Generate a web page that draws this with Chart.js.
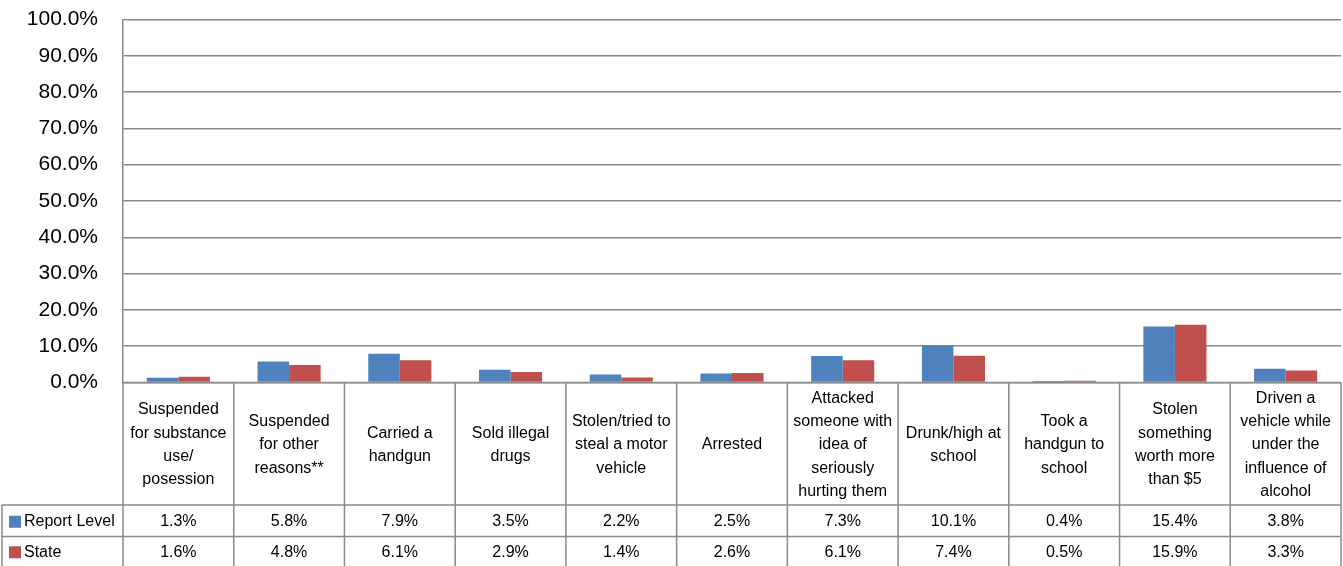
<!DOCTYPE html>
<html><head><meta charset="utf-8">
<script src="https://cdn.jsdelivr.net/npm/chart.js@4"></script>
<style>html,body{margin:0;padding:0;background:#fff;overflow:hidden}#wrap{width:1343px;height:566px;position:relative}</style>
</head><body><div id="wrap"><canvas id="c" width="1343" height="566"></canvas></div>
<script>
const categories = [
  ["Suspended","for substance","use/","posession"],
  ["Suspended","for other","reasons**"],
  ["Carried a","handgun"],
  ["Sold illegal","drugs"],
  ["Stolen/tried to","steal a motor","vehicle"],
  ["Arrested"],
  ["Attacked","someone with","idea of","seriously","hurting them"],
  ["Drunk/high at","school"],
  ["Took a","handgun to","school"],
  ["Stolen","something","worth more","than $5"],
  ["Driven a","vehicle while","under the","influence of","alcohol"]
];
const seriesNames = ["Report Level","State"];
const reportLevel = [1.3,5.8,7.9,3.5,2.2,2.5,7.3,10.1,0.4,15.4,3.8];
const stateValues = [1.6,4.8,6.1,2.9,1.4,2.6,6.1,7.4,0.5,15.9,3.3];
const yTickValues = [0,10,20,30,40,50,60,70,80,90,100];
const seriesColors = ["#4F81BD","#C0504D"];

const FONT = '"Liberation Sans", Arial, sans-serif';
const LINE = '#8a8a8a';

const tablePlugin = {
  id: 'dataTable',
  afterDraw(chart) {
    const ctx = chart.ctx;
    const xs = chart.scales.x;
    const area = chart.chartArea;
    const n = categories.length;
    const left = area.left, right = area.right;
    const colW = (right - left) / n;
    const top = area.bottom;
    const headBottom = 505;
    const row2 = 536.5;
    const bottom = 568;
    const tableLeft = 2;
    ctx.save();
    ctx.strokeStyle = LINE;
    ctx.lineWidth = 1.5;
    ctx.beginPath();
    for (let i = 0; i <= n; i++) {
      const x = left + i * colW;
      ctx.moveTo(x, top); ctx.lineTo(x, bottom);
    }
    ctx.moveTo(tableLeft, headBottom); ctx.lineTo(tableLeft, bottom);
    ctx.moveTo(left, top); ctx.lineTo(right, top);
    ctx.moveTo(tableLeft, headBottom); ctx.lineTo(right, headBottom);
    ctx.moveTo(tableLeft, row2); ctx.lineTo(right, row2);
    ctx.stroke();

    ctx.fillStyle = '#000';
    ctx.font = '16px ' + FONT;
    ctx.textAlign = 'center';
    ctx.textBaseline = 'middle';
    const lh = 23.3;
    const hc = 445;
    categories.forEach((lines, i) => {
      const cx = xs.getPixelForValue(i);
      const start = hc - (lines.length - 1) * lh / 2;
      lines.forEach((t, k) => ctx.fillText(t, cx, start + k * lh));
    });
    const rows = [reportLevel, stateValues];
    const rowCenters = [(headBottom + row2) / 2 + 1, (row2 + 566) / 2 + 1];
    rows.forEach((vals, r) => {
      vals.forEach((v, i) => {
        ctx.fillText(v.toFixed(1) + '%', xs.getPixelForValue(i), rowCenters[r]);
      });
      ctx.fillStyle = seriesColors[r];
      ctx.fillRect(9, rowCenters[r] - 6, 12, 12);
      ctx.fillStyle = '#000';
      ctx.textAlign = 'left';
      ctx.fillText(seriesNames[r], 24, rowCenters[r]);
      ctx.textAlign = 'center';
    });
    ctx.restore();
  }
};

new Chart(document.getElementById('c'), {
  type: 'bar',
  data: {
    labels: categories.map(l => l.join(' ')),
    datasets: [
      { label: seriesNames[0], data: reportLevel, backgroundColor: seriesColors[0], borderWidth: 0 },
      { label: seriesNames[1], data: stateValues, backgroundColor: seriesColors[1], borderWidth: 0 }
    ]
  },
  options: {
    responsive: false,
    devicePixelRatio: 1,
    animation: false,
    layout: { padding: { top: 19.5, right: 2, bottom: 183.5, left: 0 } },
    plugins: { legend: { display: false }, title: { display: false }, tooltip: { enabled: false } },
    datasets: { bar: { categoryPercentage: 0.57, barPercentage: 1.0 } },
    scales: {
      x: { display: false },
      y: {
        min: 0, max: 100,
        afterFit(scale) { scale.width = 123; scale.paddingTop = 0; scale.paddingBottom = 0; },
        afterBuildTicks(scale) { scale.ticks = yTickValues.map(v => ({ value: v })); },
        ticks: {
          padding: 25,
          color: '#000',
          font: { family: FONT, size: 21 },
          callback: v => v.toFixed(1) + '%'
        },
        grid: { color: LINE, lineWidth: 1.5, drawTicks: false },
        border: { color: LINE, width: 1.5 }
      }
    }
  },
  plugins: [tablePlugin]
});
</script>
</body></html>
